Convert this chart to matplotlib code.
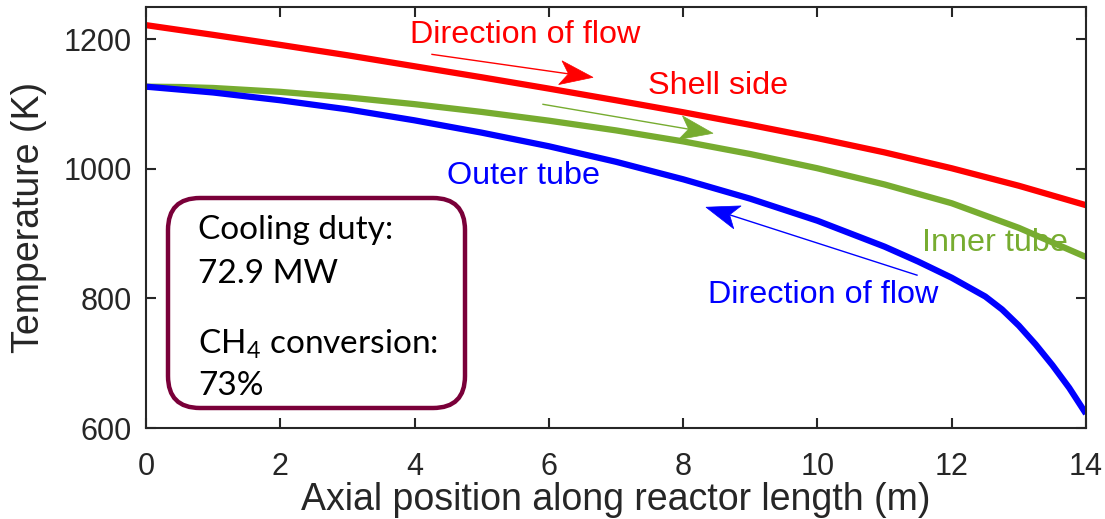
import matplotlib
matplotlib.use("Agg")
import matplotlib.pyplot as plt
import numpy as np
from matplotlib.patches import FancyBboxPatch, Polygon
from matplotlib.transforms import IdentityTransform

# axial positions (m) and temperatures (K) for the three streams
x_shell = [0, 1, 2, 3, 4, 5, 6, 7, 8, 9, 10, 11, 12, 13, 14]
t_shell = [1222, 1207, 1191.5, 1175.5, 1158.5, 1141.5, 1124, 1106, 1087.5, 1068, 1047.5, 1025.5, 1001, 974, 944]

x_inner = [0, 0.5, 1, 2, 3, 4, 5, 6, 7, 8, 9, 10, 11, 12, 13, 14]
t_inner = [1127, 1126.5, 1125, 1119, 1110.5, 1100, 1088, 1074.5, 1059.5, 1042.5, 1023, 1001, 976, 947, 909, 864]

x_outer = [0, 1, 2, 3, 4, 5, 6, 7, 8, 9, 10, 11, 11.5, 12, 12.5, 12.75, 13, 13.25, 13.5, 13.75, 14]
t_outer = [1127, 1118, 1106, 1092, 1075, 1056, 1035, 1011, 984, 954, 920, 880, 857, 832, 803, 783, 758, 729, 697, 662, 622]

cooling_duty = 72.9     # MW
ch4_conversion = 73     # %

RED = "#FF0000"
BLUE = "#0000FF"
GREEN = "#77AC30"
BOX = "#7A0039"
AXC = "#262626"

plt.rcParams["font.family"] = ["Liberation Sans", "DejaVu Sans"]

W, H = 1105, 519
fig = plt.figure(figsize=(W / 100, H / 100), dpi=100)
ax = fig.add_axes([146 / W, 1 - 428 / H, 940 / W, 421 / H])

ax.plot(x_shell, t_shell, color=RED, lw=4.5, solid_capstyle="butt")
ax.plot(x_inner, t_inner, color=GREEN, lw=4.5, solid_capstyle="butt")
ax.plot(x_outer, t_outer, color=BLUE, lw=4.5, solid_capstyle="butt")

ax.set_xlim(0, 14)
ax.set_ylim(600, 1250)
ax.set_xticks(np.arange(0, 15, 2))
ax.set_yticks([600, 800, 1000, 1200])
ax.tick_params(direction="in", length=7.5, width=1.5, colors=AXC,
               labelsize=22, top=True, right=True)
ax.tick_params(axis="x", pad=17)
ax.tick_params(axis="y", pad=10)
for s in ax.spines.values():
    s.set_linewidth(1.5)
    s.set_color(AXC)

ax.set_xlabel("Axial position along reactor length (m)", fontsize=27, color=AXC, labelpad=0)
ax.set_ylabel("Temperature (K)", fontsize=27, color=AXC, labelpad=12)

# stream labels
ax.text(3.93, 1194, "Direction of flow", color=RED, fontsize=23.3, va="baseline")
ax.text(7.48, 1115, "Shell side", color=RED, fontsize=23.3, va="baseline")
ax.text(4.48, 976, "Outer tube", color=BLUE, fontsize=23.3, va="baseline")
ax.text(11.56, 873, "Inner tube", color=GREEN, fontsize=23.3, va="baseline")
ax.text(8.37, 793, "Direction of flow", color=BLUE, fontsize=23.3, va="baseline")


def px_to_data(px, py):
    return ((px - 146) / 940 * 14, 1200 - (py - 39) / (389 / 600))


def flow_arrow(tail, tip, color, head_len=33, head_w=12):
    # thin shaft plus a notched head, sized in pixels
    p0 = ax.transData.transform(tail)
    p1 = ax.transData.transform(tip)
    u = (p1 - p0) / np.hypot(*(p1 - p0))
    n = np.array([-u[1], u[0]])
    notch = p1 - 0.75 * head_len * u
    head = [p1, p1 - head_len * u + head_w * n, notch, p1 - head_len * u - head_w * n]
    inv = ax.transData.inverted()
    ax.plot(*zip(tail, inv.transform(notch)), color=color, lw=1.0)
    ax.add_patch(Polygon(inv.transform(np.array(head)), closed=True,
                         facecolor=color, edgecolor=color, lw=0.5))


flow_arrow(px_to_data(432, 54), px_to_data(593, 77), RED)
flow_arrow(px_to_data(543, 104), px_to_data(713, 133), GREEN)
flow_arrow(px_to_data(917, 275), px_to_data(706, 207), BLUE)

# summary box, laid out in figure pixels
fig.add_artist(FancyBboxPatch((168, H - 408), 297, 210,
                              boxstyle="round,pad=0,rounding_size=32",
                              transform=IdentityTransform(), facecolor="none",
                              edgecolor=BOX, lw=3.2, zorder=3))

box_font = ["Lato", "DejaVu Sans"]
tx = (198 - 146) / 940 * 14
ax.text(tx, px_to_data(0, 239)[1], "Cooling duty:", fontsize=24, family=box_font, va="baseline")
ax.text(tx, px_to_data(0, 283)[1], f"{cooling_duty} MW", fontsize=24, family=box_font, va="baseline")
ax.text(tx, px_to_data(0, 353)[1], r"CH$_\mathregular{4}$ conversion:", fontsize=24,
        family=box_font, va="baseline")
ax.text(tx, px_to_data(0, 395)[1], f"{ch4_conversion}%", fontsize=24, family=box_font, va="baseline")

fig.savefig("out.png", dpi=100)
